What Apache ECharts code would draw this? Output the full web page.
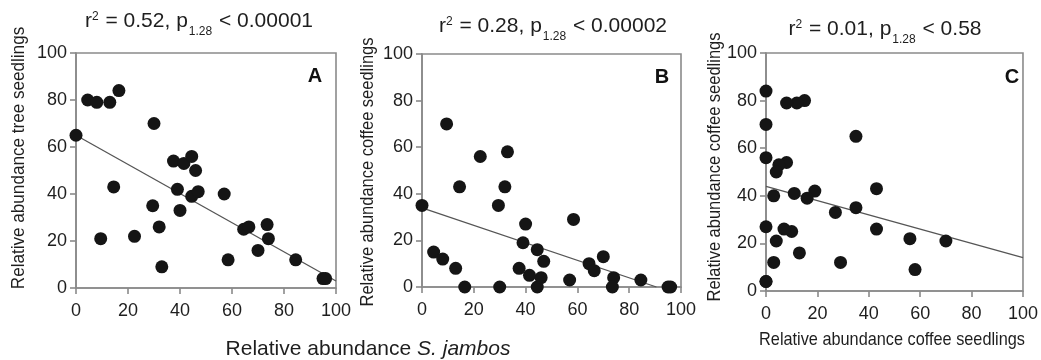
<!DOCTYPE html>
<html>
<head>
<meta charset="utf-8">
<script src="https://cdn.jsdelivr.net/npm/echarts@6/dist/echarts.min.js"></script>
<style>
html,body{margin:0;padding:0;background:#fff;}
#chart{width:1041px;height:360px;}
</style>
</head>
<body>
<div id="chart"></div>
<script>
// Per-site values (same 30 sites in A, B and C)
var sJambos = [0, 4.5, 8, 9.5, 13, 14.5, 16.5, 22.5, 29.5, 30, 32, 33, 37.5, 39, 40, 41.5, 44.5, 44.5, 46, 47, 57, 58.5, 64.5, 66.5, 70, 74, 73.5, 84.5, 95, 96];
var treeSeedlings = [65, 80, 79, 21, 79, 43, 84, 22, 35, 70, 26, 9, 54, 42, 33, 53, 56, 39, 50, 41, 40, 12, 25, 26, 16, 21, 27, 12, 4, 4];
var coffeeSeedlings = [35, 15, 12, 70, 8, 43, 0, 56, 35, 0, 43, 58, 8, 19, 27, 5, 0, 16, 4, 11, 3, 29, 10, 7, 13, 4, 0, 3, 0, 0];

// Fitted regression lines, end points
var fitA = [[0, 65], [100, 3]];
var fitB = [[0, 34], [90.5, 0]];
var fitC = [[0, 44], [100, 14]];

var axisTicks = [0, 20, 40, 60, 80, 100];

var titleA = 'r{sup|2} = 0.52, p{sub|1.28} < 0.00001';
var titleB = 'r{sup|2} = 0.28, p{sub|1.28} < 0.00002';
var titleC = 'r{sup|2} = 0.01, p{sub|1.28} < 0.58';

function pairs(xs, ys) {
  return xs.map(function (x, i) { return [x, ys[i]]; });
}

var SANS = '"Liberation Sans", Arial, Helvetica, sans-serif';
var AXIS = '#8a8a8a';
var INK = '#1e1e1e';

var grids = [
  {left: 76, top: 53, width: 260, height: 235},
  {left: 422, top: 54, width: 259, height: 233},
  {left: 766, top: 53, width: 259, height: 238}
];

function mkX(i) {
  return {
    type: 'value', gridIndex: i, min: axisTicks[0], max: axisTicks[axisTicks.length - 1], interval: 20,
    axisLine: {show: true, onZero: false, lineStyle: {color: AXIS, width: 1.6}},
    axisTick: {show: true, inside: false, length: 6, lineStyle: {color: AXIS, width: 1.6}},
    axisLabel: {show: true, margin: 14, color: INK, fontSize: 18, fontFamily: SANS},
    splitLine: {show: false}
  };
}
function mkY(i) {
  return {
    type: 'value', gridIndex: i, min: axisTicks[0], max: axisTicks[axisTicks.length - 1], interval: 20,
    axisLine: {show: true, onZero: false, lineStyle: {color: AXIS, width: 1.6}},
    axisTick: {show: true, inside: false, length: 6, lineStyle: {color: AXIS, width: 1.6}},
    axisLabel: {show: true, margin: 9, color: INK, fontSize: 18, fontFamily: SANS},
    splitLine: {show: false}
  };
}

function scatter(i, data) {
  return {type: 'scatter', xAxisIndex: i, yAxisIndex: i, data: data, symbol: 'circle', symbolSize: 13,
    itemStyle: {color: '#151515', opacity: 1}, z: 3, silent: true};
}
function fit(i, data) {
  return {type: 'line', xAxisIndex: i, yAxisIndex: i, data: data, showSymbol: false, symbol: 'none',
    lineStyle: {color: '#555', width: 1.3}, z: 2, silent: true};
}

var titleRich = {
  sup: {fontSize: 12, fontFamily: SANS, fill: INK, color: INK, padding: [0, 1, 9, 0]},
  sub: {fontSize: 12, fontFamily: SANS, fill: INK, color: INK, padding: [22, 1, 0, 1]}
};

function tText(x, y, txt) {
  return {type: 'text', x: x, y: y, style: {text: txt, fontSize: 21, fontFamily: SANS, fill: INK,
    align: 'center', verticalAlign: 'middle', textAlign: 'center', textVerticalAlign: 'middle', rich: titleRich}};
}
function letter(x, y, txt) {
  return {type: 'text', x: x, y: y, style: {text: txt, fontSize: 20, fontWeight: 'bold', fontFamily: SANS, fill: '#111',
    align: 'center', verticalAlign: 'middle', textAlign: 'center', textVerticalAlign: 'middle'}};
}
// condensed-looking axis titles (horizontal squeeze of Liberation Sans)
function nameText(x, y, txt, rot, sx) {
  return {type: 'text', x: x, y: y, rotation: rot, scaleX: sx, scaleY: 1, style: {text: txt, fontSize: 19, fontFamily: SANS, fill: INK,
    align: 'center', verticalAlign: 'middle', textAlign: 'center', textVerticalAlign: 'middle'}};
}

var option = {
  animation: false,
  backgroundColor: '#fff',
  grid: grids.map(function (g) {
    return Object.assign({show: true, borderColor: AXIS, borderWidth: 1.6, backgroundColor: 'transparent', containLabel: false}, g);
  }),
  xAxis: [mkX(0), mkX(1), mkX(2)],
  yAxis: [mkY(0), mkY(1), mkY(2)],
  series: [
    fit(0, fitA), scatter(0, pairs(sJambos, treeSeedlings)),
    fit(1, fitB), scatter(1, pairs(sJambos, coffeeSeedlings)),
    fit(2, fitC), scatter(2, pairs(coffeeSeedlings, treeSeedlings))
  ],
  graphic: [
    tText(199, 21, titleA),
    tText(553, 26, titleB),
    tText(885, 29, titleC),
    letter(315, 76, 'A'),
    letter(662, 77, 'B'),
    letter(1012, 77, 'C'),
    nameText(19, 158, 'Relative abundance tree seedlings', Math.PI / 2, 0.9),
    nameText(368, 172, 'Relative abundance coffee seedlings', Math.PI / 2, 0.867),
    nameText(715, 167, 'Relative abundance coffee seedlings', Math.PI / 2, 0.867),
    nameText(892, 340, 'Relative abundance coffee seedlings', 0, 0.857),
    {type: 'text', x: 368, y: 349, style: {text: 'Relative abundance {i|S. jambos}', fontSize: 21, fontFamily: SANS, fill: INK,
      align: 'center', verticalAlign: 'middle', textAlign: 'center', textVerticalAlign: 'middle',
      rich: {i: {fontSize: 21, fontStyle: 'italic', fontFamily: SANS, fill: INK, color: INK}}}}
  ]
};

var chart = echarts.init(document.getElementById('chart'), null, {renderer: 'canvas'});
chart.setOption(option);
</script>
</body>
</html>
